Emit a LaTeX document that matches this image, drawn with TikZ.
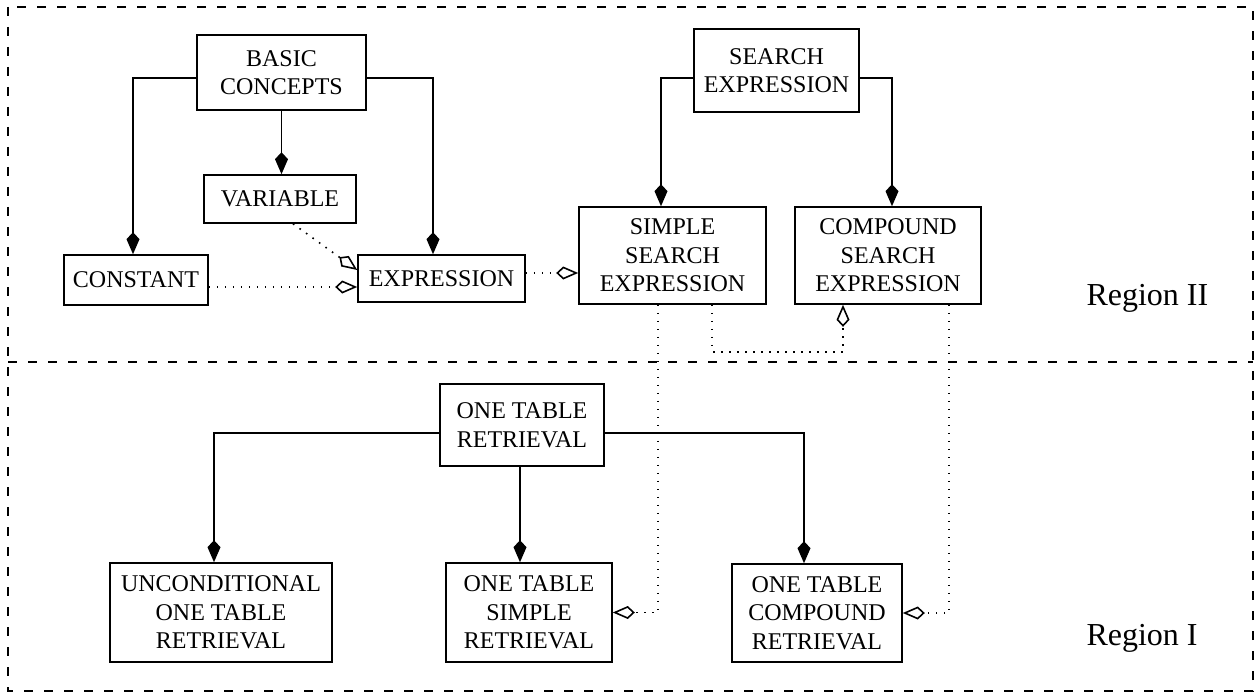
\documentclass[tikz,border=0pt]{standalone}
\usepackage{fontspec}
\setmainfont{Liberation Serif}
\usetikzlibrary{arrows.meta,calc}

\begin{document}
\begin{tikzpicture}[x=1pt,y=-1pt,
  every node/.style={font=\fontsize{24}{28.5}\selectfont},
  box/.style={draw, line width=1.6pt, align=center, inner sep=0pt},
  sol/.style={line width=1.4pt, -{Kite[length=22pt,width=13pt,inset=7pt]}},
  dot/.style={line width=1.6pt, dash pattern=on 1.6pt off 6.4pt,
              -{Kite[open,length=22pt,width=13pt,inset=7pt,line width=1.6pt]}},
  frame/.style={line width=1.5pt, dash pattern=on 9pt off 11pt},
  region/.style={font=\fontsize{32}{36}\selectfont, anchor=base west}]
\useasboundingbox (0,0) rectangle (1255,695);

% region frames
\draw[frame] (8,7) rectangle (1253,691);
\draw[frame] (8,362) -- (1253,362);

% Region II boxes
\node[box, minimum width=169pt, minimum height=75pt] (basic) at (281.5,72.5) {BASIC\\CONCEPTS};
\node[box, minimum width=152pt, minimum height=48pt] (variable) at (280,199) {VARIABLE};
\node[box, minimum width=144pt, minimum height=50pt] (constant) at (136,280) {CONSTANT};
\node[box, minimum width=167pt, minimum height=47pt] (expression) at (441.5,278.5) {EXPRESSION};
\node[box, minimum width=165pt, minimum height=83pt] (search) at (776.5,70.5) {SEARCH\\EXPRESSION};
\node[box, minimum width=187pt, minimum height=97pt] (simple) at (672.5,255.5) {SIMPLE\\SEARCH\\EXPRESSION};
\node[box, minimum width=186pt, minimum height=97pt] (compound) at (888,255.5) {COMPOUND\\SEARCH\\EXPRESSION};

% Region I boxes
\node[box, minimum width=164pt, minimum height=82pt] (otr) at (522,425) {ONE TABLE\\RETRIEVAL};
\node[box, minimum width=222pt, minimum height=99pt] (uncond) at (221,612.5) {UNCONDITIONAL\\ONE TABLE\\RETRIEVAL};
\node[box, minimum width=166pt, minimum height=99pt] (otsimple) at (529,612.5) {ONE TABLE\\SIMPLE\\RETRIEVAL};
\node[box, minimum width=170pt, minimum height=98pt] (otcompound) at (817,613) {ONE TABLE\\COMPOUND\\RETRIEVAL};

% region labels
\node[region] (r2) at (1083,305) {Region II};
\node[region] (r1) at (1083,645) {Region I};

% hierarchy links
\draw[sol] ([yshift=-5.5pt]basic.west) -| ([xshift=-3pt]constant.north);
\draw[sol] (basic.south) -- (basic.south |- variable.north);
\draw[sol] ([yshift=-5.5pt]basic.east) -| ([xshift=-8.5pt]expression.north);
\draw[sol] ([yshift=-7.5pt]search.west) -| ([xshift=-11.5pt]simple.north);
\draw[sol] ([yshift=-7.5pt]search.east) -| ([xshift=4pt]compound.north);
\draw[sol] ([yshift=-8pt]otr.west) -| ([xshift=-7pt]uncond.north);
\draw[sol] ([xshift=-2pt]otr.south) -- ([xshift=-2pt]otr.south |- otsimple.north);
\draw[sol] ([yshift=-8pt]otr.east) -| ([xshift=-13pt]otcompound.north);

% usage links
\draw[dot] ([xshift=13pt]variable.south) -- ([yshift=8.5pt]expression.west);
\coordinate (c1) at ([yshift=-7pt]constant.east);
\draw[dot] (c1) -- (c1 -| expression.west);
\coordinate (e1) at ([yshift=5.5pt]expression.east);
\draw[dot] (e1) -- (e1 -| simple.west);
\draw[dot] ([xshift=39.5pt]simple.south) -- ++(0,47) -| ([xshift=-45pt]compound.south);
\draw[dot] ([xshift=-14.5pt]simple.south) |- (otsimple.east);
\draw[dot] ([xshift=61pt]compound.south) |- (otcompound.east);
\end{tikzpicture}
\end{document}
